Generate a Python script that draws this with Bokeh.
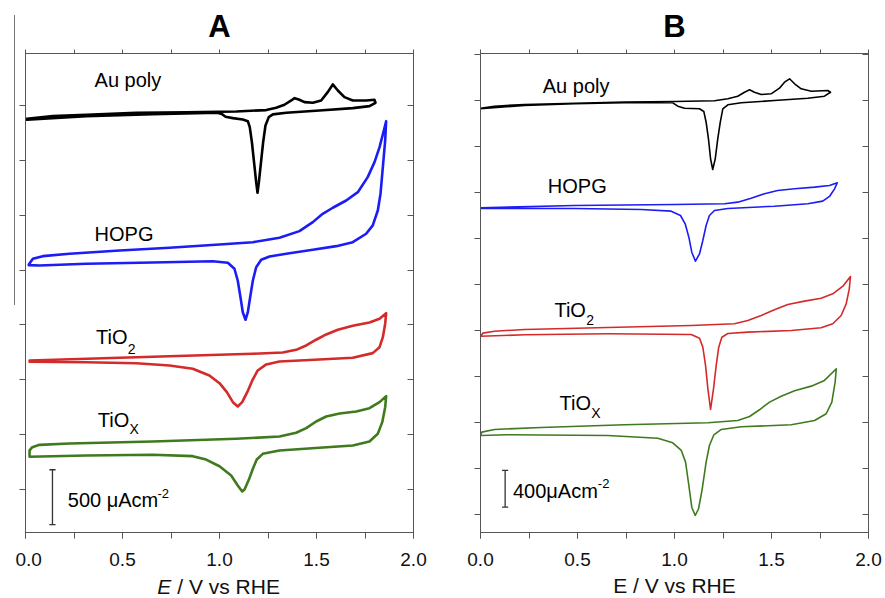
from bokeh.plotting import figure
from bokeh.layouts import row, column
from bokeh.models import LinearAxis, SingleIntervalTicker, Range1d, NumeralTickFormatter, Div
from bokeh.embed import file_html
from bokeh.resources import INLINE
from bokeh.core.properties import value

FONT = "Liberation Sans"

# ---------------- Panel A (current density in uA cm^-2, curves stacked) ----------------
A_au_E = [0.007, 0.141, 0.313, 0.571, 0.828, 1.086, 1.241, 1.292, 1.335, 1.370, 1.387, 1.409, 1.438, 1.481, 1.524,
          1.558, 1.584, 1.610, 1.644, 1.687, 1.756, 1.799, 1.804,
          1.773, 1.687, 1.515, 1.344, 1.275, 1.254, 1.237, 1.225, 1.214, 1.203, 1.196, 1.189, 1.178, 1.167, 1.156,
          1.146, 1.120, 1.069, 1.031, 1.014, 0.991, 0.656, 0.313, 0.007]
A_au_j = [3379, 3403, 3416, 3434, 3439, 3446, 3458, 3480, 3507, 3546, 3567, 3555, 3531, 3525, 3546,
          3622, 3692, 3637, 3576, 3546, 3546, 3552, 3525,
          3494, 3476, 3455, 3434, 3419, 3394, 3318, 3166, 2984, 2801, 2705, 2801, 2984, 3166, 3303,
          3357, 3373, 3385, 3398, 3421, 3434, 3421, 3403, 3370]

A_hopg_E = [0.017, 0.038, 0.089, 0.227, 0.485, 0.742, 1.0, 1.172, 1.309, 1.412, 1.481, 1.532, 1.584, 1.653, 1.713,
            1.764, 1.799, 1.825, 1.845, 1.859,
            1.854, 1.842, 1.830, 1.816, 1.790, 1.756, 1.687, 1.602, 1.481, 1.344, 1.258, 1.215, 1.189, 1.172, 1.158,
            1.146, 1.134, 1.120, 1.108, 1.094, 1.077, 1.043, 0.965, 0.656, 0.313, 0.072, 0.017]
A_hopg_j = [2051, 2103, 2127, 2149, 2179, 2203, 2233, 2254, 2295, 2355, 2437, 2513, 2568, 2634, 2710,
            2847, 2984, 3120, 3257, 3357,
            3181, 2938, 2696, 2543, 2407, 2331, 2254, 2218, 2185, 2149, 2124, 2094, 2026, 1905, 1753,
            1616, 1547, 1616, 1753, 1905, 2012, 2067, 2081, 2069, 2058, 2042, 2045]

A_tio2_E = [0.021, 0.485, 0.828, 1.172, 1.326, 1.395, 1.447, 1.498, 1.550, 1.610, 1.687, 1.773, 1.825, 1.859,
            1.854, 1.842, 1.825, 1.790, 1.687, 1.515, 1.309, 1.241, 1.197, 1.169, 1.143, 1.117, 1.094, 1.069,
            1.038, 1.0, 0.948, 0.862, 0.742, 0.571, 0.313, 0.021]
A_tio2_j = [1176, 1201, 1219, 1237, 1249, 1273, 1313, 1365, 1413, 1456, 1492, 1522, 1556, 1607,
            1511, 1388, 1297, 1243, 1201, 1185, 1167, 1140, 1085, 994, 887, 796, 757, 796,
            887, 969, 1039, 1100, 1130, 1151, 1160, 1164]

A_tiox_E = [0.021, 0.035, 0.072, 0.227, 0.656, 1.086, 1.309, 1.395, 1.447, 1.498, 1.550, 1.619, 1.705, 1.773,
            1.825, 1.859,
            1.854, 1.839, 1.816, 1.773, 1.687, 1.515, 1.309, 1.223, 1.192, 1.172, 1.151, 1.129, 1.117, 1.094,
            1.060, 1.0, 0.931, 0.862, 0.656, 0.313, 0.021, 0.021]
A_tiox_j = [356, 386, 407, 419, 438, 462, 483, 517, 559, 620, 665, 693, 711, 741,
            796, 851,
            750, 614, 508, 438, 401, 380, 356, 325, 273, 189, 88, 0, -18, 36,
            128, 212, 273, 304, 316, 310, 298, 356]

# ---------------- Panel B ----------------
B_au_E = [0.0, 0.072, 0.227, 0.485, 0.742, 1.0, 1.206, 1.275, 1.326, 1.361, 1.387, 1.412, 1.447, 1.498, 1.541,
          1.567, 1.593, 1.619, 1.653, 1.705, 1.790, 1.804,
          1.773, 1.687, 1.515, 1.344, 1.275, 1.249, 1.236, 1.223, 1.210, 1.197, 1.186, 1.175, 1.163, 1.151,
          1.129, 1.052, 1.017, 0.991, 0.742, 0.485, 0.227, 0.0]
B_au_j = [4416, 4438, 4457, 4471, 4482, 4489, 4497, 4519, 4547, 4590, 4617, 4590, 4565, 4573, 4634,
          4699, 4736, 4682, 4627, 4601, 4609, 4590,
          4547, 4525, 4500, 4475, 4453, 4410, 4264, 4084, 3866, 3750, 3866, 4084, 4264, 4381,
          4410, 4416, 4438, 4475, 4475, 4464, 4446, 4410]

B_hopg_E = [0.0, 0.485, 1.0, 1.258, 1.326, 1.395, 1.464, 1.532, 1.619, 1.722, 1.799, 1.839,
            1.825, 1.799, 1.764, 1.687, 1.515, 1.275, 1.206, 1.180, 1.163, 1.146, 1.129, 1.108, 1.089, 1.074,
            1.055, 1.031, 0.983, 0.828, 0.485, 0.0]
B_hopg_j = [3334, 3359, 3370, 3377, 3395, 3438, 3486, 3522, 3540, 3558, 3576, 3606,
            3540, 3457, 3406, 3377, 3351, 3326, 3304, 3250, 3141, 2978, 2834, 2753, 2851, 3014,
            3160, 3250, 3297, 3315, 3326, 3326]

B_tio2_E = [0.0, 0.012, 0.072, 0.227, 0.656, 1.086, 1.309, 1.378, 1.447, 1.515, 1.584, 1.670, 1.756, 1.816,
            1.868, 1.907,
            1.901, 1.885, 1.859, 1.816, 1.756, 1.602, 1.378, 1.275, 1.244, 1.228, 1.215, 1.201, 1.186, 1.172,
            1.160, 1.146, 1.129, 1.086, 0.656, 0.227, 0.0]
B_tio2_j = [1938, 1971, 1992, 2011, 2033, 2054, 2073, 2109, 2163, 2225, 2283, 2319, 2351, 2399,
            2482, 2587,
            2453, 2290, 2163, 2073, 2029, 2000, 1982, 1967, 1927, 1819, 1620, 1366, 1141, 1366,
            1620, 1819, 1916, 1957, 1964, 1953, 1938]

B_tiox_E = [0.0, 0.007, 0.072, 0.313, 0.742, 1.172, 1.326, 1.387, 1.438, 1.490, 1.550, 1.619, 1.705, 1.773,
            1.834,
            1.828, 1.811, 1.782, 1.722, 1.602, 1.344, 1.241, 1.203, 1.180, 1.163, 1.143, 1.124, 1.107, 1.089,
            1.074, 1.057, 1.035, 0.991, 0.914, 0.656, 0.141, 0.0]
B_tiox_j = [859, 895, 924, 946, 975, 997, 1022, 1065, 1138, 1221, 1286, 1345, 1395, 1457,
            1584,
            1438, 1221, 1095, 1022, 975, 953, 924, 866, 750, 569, 279, 62, -11, 79,
            315, 569, 696, 779, 829, 859, 866, 859]

# curve labels: (E, j) of the left/middle of the text
A_label_text = ["Au poly", "HOPG", "TiO", "TiO"]
A_label_E = [0.356, 0.356, 0.364, 0.373]
A_label_j = [3728, 2327, 1387, 634]
A_sub_text = ["2", "X"]
A_sub_E = [0.527, 0.536]
A_sub_j = [1283, 547]

B_label_text = ["Au poly", "HOPG", "TiO", "TiO"]
B_label_E = [0.321, 0.347, 0.381, 0.407]
B_label_j = [4654, 3576, 2226, 1217]
B_sub_text = ["2", "X"]
B_sub_E = [0.545, 0.571]
B_sub_j = [2109, 1103]

# scale bars
A_bar_E, A_bar_lo, A_bar_hi = 0.139, -320, 180
A_bar_text, A_bar_text_E, A_bar_text_j = "500 μAcm", 0.218, -100
A_bar_sup_E, A_bar_sup_j = 0.68, -41
B_bar_E, B_bar_lo, B_bar_hi = 0.127, 80, 480
B_bar_text, B_bar_text_E, B_bar_text_j = "400μAcm", 0.167, 252
B_bar_sup_E, B_bar_sup_j = 0.605, 342

x_ticks_major = 0.5
y_tick_step = 500

COL_AU, COL_HOPG, COL_TIO2, COL_TIOX = "#000000", "#1c1cf5", "#d42a2a", "#3f7a1f"
AXIS_COL = "#555555"


def hidden_label_axis(ax):
    ax.major_label_text_color = None
    ax.major_label_text_alpha = 0
    ax.major_label_text_font_size = "0px"
    ax.major_label_standoff = 0


def style_panel(p, title, lw, curves, lab, sub, bar):
    p.grid.visible = False
    p.outline_line_color = AXIS_COL
    p.outline_line_width = 1
    p.title.text = title
    p.title.align = "center"
    p.title.text_font = FONT
    p.title.text_font_size = "31px"
    p.title.text_font_style = "bold"
    p.title.text_color = "black"
    p.title.standoff = 12

    xa = p.xaxis[0]
    xa.ticker = SingleIntervalTicker(interval=x_ticks_major, num_minor_ticks=2)
    xa.formatter = NumeralTickFormatter(format="0.0")
    xa.major_tick_out = 6
    xa.major_tick_in = 0
    xa.minor_tick_out = 6
    xa.minor_tick_in = 0
    xa.axis_line_color = AXIS_COL
    xa.major_tick_line_color = AXIS_COL
    xa.minor_tick_line_color = AXIS_COL
    xa.major_label_text_font = FONT
    xa.major_label_text_font_size = "19px"
    xa.major_label_text_color = "#111111"
    xa.major_label_standoff = 14

    ya = p.yaxis[0]
    ya.ticker = SingleIntervalTicker(interval=y_tick_step, num_minor_ticks=0)
    ya.major_tick_out = 6
    ya.major_tick_in = 0
    ya.minor_tick_out = 0
    ya.minor_tick_in = 0
    ya.axis_line_color = AXIS_COL
    ya.major_tick_line_color = AXIS_COL
    hidden_label_axis(ya)

    top = LinearAxis(ticker=SingleIntervalTicker(interval=x_ticks_major / 2, num_minor_ticks=0),
                     major_tick_out=4, major_tick_in=0, minor_tick_out=0, minor_tick_in=0,
                     axis_line_color=AXIS_COL, major_tick_line_color=AXIS_COL)
    hidden_label_axis(top)
    p.add_layout(top, "above")
    right = LinearAxis(ticker=SingleIntervalTicker(interval=y_tick_step, num_minor_ticks=0),
                       major_tick_out=0, major_tick_in=6, minor_tick_out=0, minor_tick_in=0,
                       axis_line_color=AXIS_COL, major_tick_line_color=AXIS_COL)
    hidden_label_axis(right)
    p.add_layout(right, "right")

    for E, j, c in curves:
        p.line(E, j, line_color=c, line_width=lw, line_join="round", line_cap="round")

    texts, tE, tj = lab
    p.text(x=tE, y=tj, text=texts, text_font=value(FONT), text_font_size="20px",
           text_baseline="middle", text_align="left", text_color="black")
    st, sE, sj = sub
    p.text(x=sE, y=sj, text=st, text_font=value(FONT), text_font_size="14px",
           text_baseline="middle", text_align="left", text_color="black")

    bE, blo, bhi, btxt, btE, btj, supE, supj = bar
    cap = 0.016
    p.segment(x0=[bE, bE - cap, bE - cap], y0=[blo, blo, bhi], x1=[bE, bE + cap, bE + cap], y1=[bhi, blo, bhi],
              line_color="#333333", line_width=1.3)
    p.text(x=[btE], y=[btj], text=[btxt], text_font=value(FONT), text_font_size="20px",
           text_baseline="middle", text_align="left", text_color="black")
    p.text(x=[supE], y=[supj], text=["-2"], text_font=value(FONT), text_font_size="13px",
           text_baseline="middle", text_align="left", text_color="black")


STRIP_H = 24


def label_strip(width, left, right, x_range):
    q = figure(width=width, height=STRIP_H, x_range=x_range, y_range=Range1d(0, 1),
               output_backend="svg", toolbar_location=None,
               min_border_left=left, min_border_right=right, min_border_top=0, min_border_bottom=0)
    q.axis.visible = False
    q.grid.visible = False
    q.outline_line_color = None
    return q


# stray crop-edge line at the far left of the original picture
edge = Div(text="", width=14, height=290, margin=(15, 0, 0, 0),
           styles={"border-right": "1.5px solid #777777", "box-sizing": "content-box"})

PANEL_H = 598 - STRIP_H

pA = figure(width=429, height=PANEL_H, x_range=Range1d(0, 2), y_range=Range1d(-392, 3974),
            output_backend="svg", toolbar_location=None,
            min_border_left=10, min_border_right=31, min_border_top=53, min_border_bottom=PANEL_H - 532)
style_panel(pA, "A", 2.6,
            [(A_au_E, A_au_j, COL_AU), (A_hopg_E, A_hopg_j, COL_HOPG),
             (A_tio2_E, A_tio2_j, COL_TIO2), (A_tiox_E, A_tiox_j, COL_TIOX)],
            (A_label_text, A_label_E, A_label_j), (A_sub_text, A_sub_E, A_sub_j),
            (A_bar_E, A_bar_lo, A_bar_hi, A_bar_text, A_bar_text_E, A_bar_text_j, A_bar_sup_E, A_bar_sup_j))
labA = label_strip(429, 10, 31, pA.x_range)
labA.text(x=[0.751], y=[0.5], text=["E"], text_font=value(FONT), text_font_size="21px",
          text_font_style="italic", text_align="right", text_baseline="middle", text_color="#111111")
labA.text(x=[0.782], y=[0.5], text=["/ V vs RHE"], text_font=value(FONT), text_font_size="21px",
          text_align="left", text_baseline="middle", text_color="#111111")

pB = figure(width=440, height=PANEL_H, x_range=Range1d(0, 2), y_range=Range1d(-196, 5011),
            output_backend="svg", toolbar_location=None,
            min_border_left=36, min_border_right=16, min_border_top=53, min_border_bottom=PANEL_H - 532)
style_panel(pB, "B", 1.6,
            [(B_au_E, B_au_j, COL_AU), (B_hopg_E, B_hopg_j, COL_HOPG),
             (B_tio2_E, B_tio2_j, COL_TIO2), (B_tiox_E, B_tiox_j, COL_TIOX)],
            (B_label_text, B_label_E, B_label_j), (B_sub_text, B_sub_E, B_sub_j),
            (B_bar_E, B_bar_lo, B_bar_hi, B_bar_text, B_bar_text_E, B_bar_text_j, B_bar_sup_E, B_bar_sup_j))
labB = label_strip(440, 36, 16, pB.x_range)
labB.text(x=[1.0], y=[0.54], text=["E / V vs RHE"], text_font=value(FONT), text_font_size="21px",
          text_align="center", text_baseline="middle", text_color="#111111")

layout = row(edge, column(pA, labA, spacing=0), column(pB, labB, spacing=0), spacing=0)
open("out.html", "w").write(file_html(layout, INLINE))
